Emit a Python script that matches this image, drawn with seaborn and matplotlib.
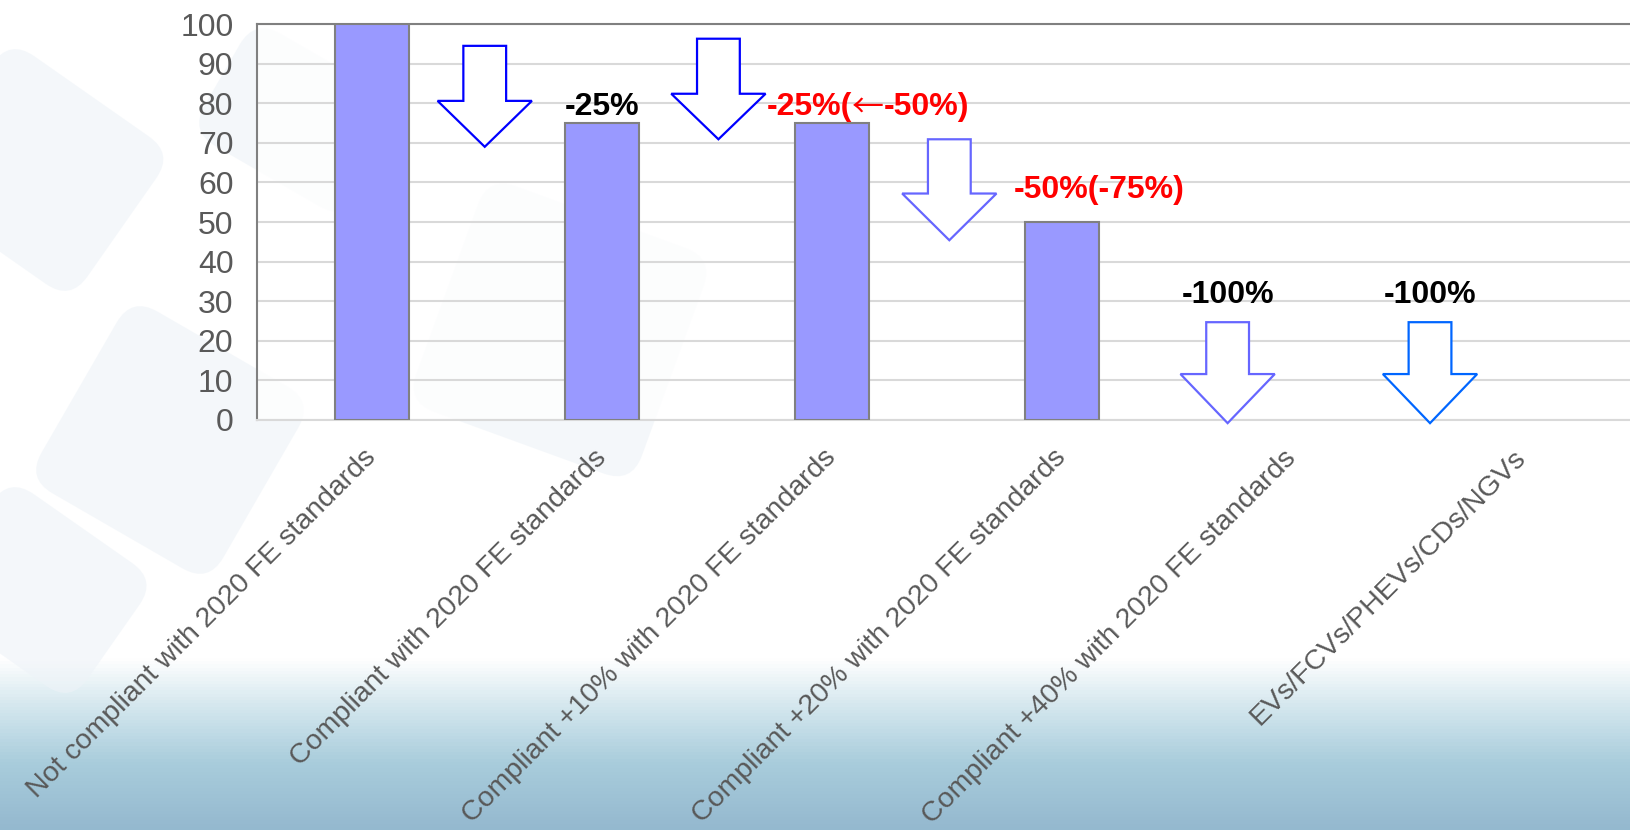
import numpy as np
import matplotlib
matplotlib.use("Agg")
import matplotlib.pyplot as plt
from matplotlib.patches import Polygon, FancyBboxPatch
from matplotlib.colors import LinearSegmentedColormap
from matplotlib.transforms import ScaledTranslation, Affine2D
import seaborn as sns

# ---- data ----
categories = [
    "Not compliant with 2020 FE standards",
    "Compliant with 2020 FE standards",
    "Compliant +10% with 2020 FE standards",
    "Compliant +20% with 2020 FE standards",
    "Compliant +40% with 2020 FE standards",
    "EVs/FCVs/PHEVs/CDs/NGVs",
]
values = [100, 75, 75, 50, 0, 0]
y_ticks = [0, 10, 20, 30, 40, 50, 60, 70, 80, 90, 100]

label_texts = ["-25%", "-25%(\u2190-50%)", "-50%(-75%)", "-100%", "-100%"]
label_colors = ["black", "#FF0000", "#FF0000", "black", "black"]
label_x = [1.0, 2.157, 3.16, 3.72, 4.60]
label_y = [79, 79, 58, 31.5, 31.5]

# block arrows: centre x, top of shaft, base of head, tip
arrow_x = [0.49, 1.506, 2.51, 3.72, 4.60]
arrow_top = [94.5, 96.3, 70.9, 24.7, 24.7]
arrow_base = [80.6, 82.4, 57.2, 11.6, 11.6]
arrow_tip = [69.0, 70.9, 45.4, -0.8, -0.8]
arrow_colors = ["#0000FF", "#0000FF", "#6666FF", "#6666FF", "#0066FF"]

sns.set_theme(style="white")
plt.rcParams["font.family"] = ["Liberation Sans", "DejaVu Sans"]

fig = plt.figure(figsize=(16.3, 8.3), dpi=100)

# background gradient (pixel coordinates, y downwards)
bg = fig.add_axes([0, 0, 1, 1], zorder=-10)
cmap = LinearSegmentedColormap.from_list(
    "bg", [(0.0, "#94b9cf"), (0.08, "#a9cddc"), (0.15, "#d6e8ef"), (0.205, "#ffffff"), (1.0, "#ffffff")]
)
grad = np.linspace(0, 1, 256).reshape(-1, 1)
bg.imshow(grad, extent=[0, 1630, 830, 0], aspect="auto", cmap=cmap, origin="lower", zorder=0)
bg.set_xlim(0, 1630)
bg.set_ylim(830, 0)
# faint decorative watermark shapes
for (cx, cy, w, h, ang) in [(40, 170, 200, 180, 35), (170, 440, 210, 210, 30),
                            (40, 590, 180, 150, 35), (560, 330, 240, 240, 20),
                            (300, 120, 180, 130, 30)]:
    p = FancyBboxPatch((cx - w / 2, cy - h / 2), w, h, boxstyle="round,pad=0,rounding_size=30",
                       facecolor="#eef3f8", edgecolor="none", alpha=0.6, zorder=1)
    p.set_transform(Affine2D().rotate_deg_around(cx, cy, ang) + bg.transData)
    bg.add_patch(p)
bg.axis("off")

ax = fig.add_axes([0.1577, 0.494, 0.8466, 0.477], zorder=1)
ax.set_facecolor((1, 1, 1, 0.8))

sns.barplot(x=categories, y=values, color="#9999FF", saturation=1, width=0.32,
            edgecolor="#808080", linewidth=1.5, ax=ax, zorder=3)
for p in ax.patches:
    if p.get_height() == 0:
        p.set_linewidth(0)

ax.set_ylim(0, 100)
ax.set_xlim(-0.5, len(categories) - 0.5)
ax.set_yticks(y_ticks)
ax.yaxis.grid(True, color="#d9d9d9", linewidth=1.5, zorder=0)
ax.set_axisbelow(True)
ax.tick_params(axis="both", length=0, labelcolor="#595959")
ax.tick_params(axis="y", pad=17, labelsize=23)
ax.tick_params(axis="x", pad=10, labelsize=20.5)
ax.set_xticks(range(len(categories)))
ax.set_xticklabels(categories, rotation=45, ha="right", rotation_mode="anchor")
off = ScaledTranslation(-0.09, -0.11, fig.dpi_scale_trans)
for lbl in ax.get_xticklabels():
    lbl.set_transform(lbl.get_transform() + off)
ax.set_xlabel("")
ax.set_ylabel("")
for side in ["left", "top", "right"]:
    ax.spines[side].set_color("#808080")
    ax.spines[side].set_linewidth(1.5)
ax.spines["bottom"].set_color("#d9d9d9")
ax.spines["bottom"].set_linewidth(1.5)

# block arrows
shaft_hw = 0.093
head_hw = 0.205
for cx, top, base, tip, col in zip(arrow_x, arrow_top, arrow_base, arrow_tip, arrow_colors):
    pts = [
        (cx - shaft_hw, top), (cx + shaft_hw, top), (cx + shaft_hw, base),
        (cx + head_hw, base), (cx, tip), (cx - head_hw, base), (cx - shaft_hw, base),
    ]
    ax.add_patch(Polygon(pts, closed=True, facecolor="white", edgecolor=col,
                         linewidth=1.6, zorder=4, clip_on=False))

kw = dict(fontsize=23, fontweight="bold", zorder=5)
split_groups = []
for t, c, x, y in zip(label_texts, label_colors, label_x, label_y):
    if "\u2190" in t:
        left, right = t.split("\u2190")
        t1 = ax.text(x, y, left, color=c, ha="left", va="center", **kw)
        t2 = ax.annotate("\u2190", xy=(1, 0.5), xycoords=t1, ha="left", va="center",
                         color=c, fontsize=23, family=["Noto Sans CJK JP", "DejaVu Sans"], zorder=5)
        t3 = ax.annotate(right, xy=(1, 0.5), xycoords=t2, ha="left", va="center",
                         color=c, **kw)
        split_groups.append((t1, [t1, t2, t3], x, y))
    else:
        ax.text(x, y, t, color=c, ha="center", va="center", **kw)

fig.canvas.draw()
r = fig.canvas.get_renderer()
for t1, parts, x, y in split_groups:
    total = sum(p.get_window_extent(r).width for p in parts)
    xd, yd = ax.transData.transform((x, y))
    nx, ny = ax.transData.inverted().transform((xd - total / 2, yd))
    t1.set_position((nx, ny))

fig.savefig("out.png", dpi=100)
